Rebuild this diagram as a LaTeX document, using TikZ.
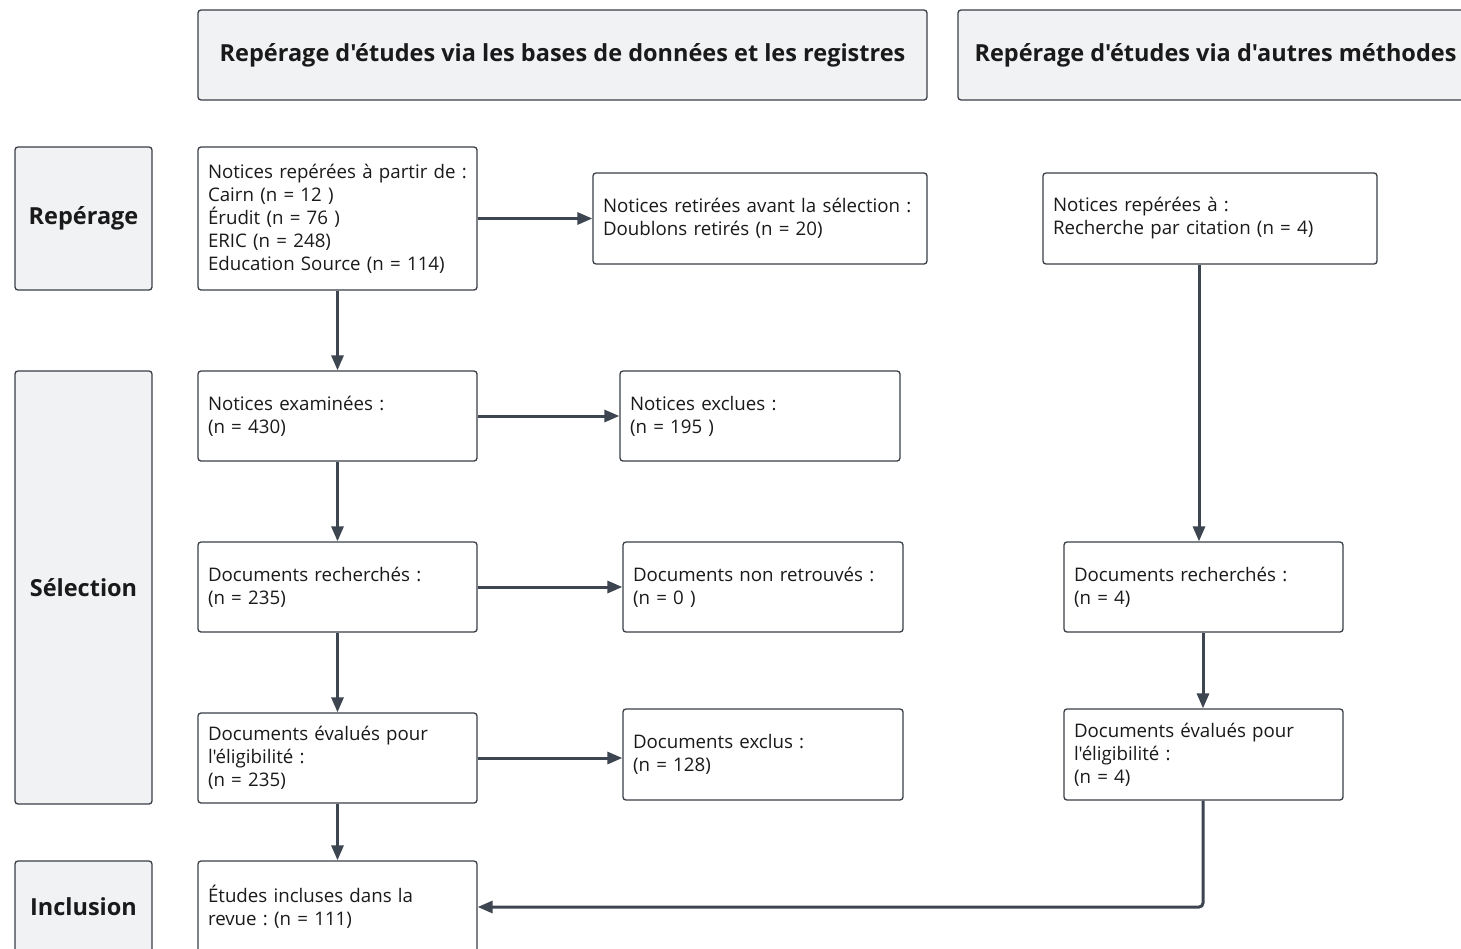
\documentclass[tikz,border=0pt]{standalone}
\usepackage{fontspec}
\setmainfont{Open Sans}[Ligatures=TeXOff]
\frenchspacing
\usetikzlibrary{arrows.meta,positioning}
\definecolor{edge}{HTML}{3A3F47}
\definecolor{arrowc}{HTML}{3D4550}
\definecolor{panel}{HTML}{F1F2F4}
\definecolor{ink}{HTML}{1A1A1A}
\tikzset{
  box/.style={draw=edge, line width=1.3pt, rounded corners=3pt, fill=white,
    inner sep=0pt, align=left, text=ink, font=\fontsize{18.7}{23}\selectfont},
  headbox/.style={draw=edge, line width=1.3pt, rounded corners=3pt, fill=panel,
    inner sep=0pt, align=center, text=ink, font=\bfseries\fontsize{23.5}{27}\selectfont},
  phasebox/.style={headbox},
  flow/.style={draw=arrowc, line width=3pt, -{Triangle[length=15pt,width=12pt]}, rounded corners=4pt}
}
\newcommand{\mkbox}[7]{% name, cx, cy, w, h, style, text
  \node[#6, minimum width=#4pt, minimum height=#5pt, text width=#4pt-20pt] (#1) at (#2,#3) {#7};}
\begin{document}
\begin{tikzpicture}[x=1pt,y=-1pt]
\useasboundingbox (0,0) rectangle (1461,948);
\clip (0,0) rectangle (1461,948);
\fill[white] (0,0) rectangle (1461,948);
% headers
\node[headbox, minimum width=729pt, minimum height=90pt] (H1) at (562.5,55) {Repérage d'études via les bases de données et les registres};
\node[headbox, minimum width=515pt, minimum height=90pt] (H2) at (1215.5,55) {Repérage d'études via d'autres méthodes};
% phases
\node[phasebox, minimum width=137pt, minimum height=143pt] (P1) at (83.5,218.5) {Repérage};
\node[phasebox, minimum width=137pt, minimum height=433pt] (P2) at (83.5,587.5) {Sélection};
\node[phasebox, minimum width=137pt, minimum height=92pt] (P3) at (83.5,907) {Inclusion};
% boxes
\mkbox{A}{337.5}{218.5}{279}{143}{box}{Notices repérées à partir de :\\Cairn (n = 12 )\\Érudit (n = 76 )\\ERIC (n = 248)\\Education Source (n = 114)}
\mkbox{B}{760}{218.5}{334}{91}{box}{Notices retirées avant la sélection :\\Doublons retirés (n = 20)}
\mkbox{C}{1210}{218.5}{334}{91}{box}{Notices repérées à :\\Recherche par citation (n = 4)}
\mkbox{D}{337.5}{416}{279}{90}{box}{Notices examinées :\\(n = 430)}
\mkbox{E}{760}{416}{280}{90}{box}{Notices exclues :\\(n = 195 )}
\mkbox{F}{337.5}{587}{279}{90}{box}{Documents recherchés :\\(n = 235)}
\mkbox{G}{763}{587}{280}{90}{box}{Documents non retrouvés :\\(n = 0 )}
\mkbox{Hr}{1203.5}{587}{279}{90}{box}{Documents recherchés :\\(n = 4)}
\mkbox{I}{337.5}{758}{279}{90}{box}{Documents évalués pour\\l'éligibilité :\\(n = 235)}
\mkbox{J}{763}{754.5}{280}{91}{box}{Documents exclus :\\(n = 128)}
\mkbox{K}{1203.5}{754.5}{279}{91}{box}{Documents évalués pour\\l'éligibilité :\\(n = 4)}
\mkbox{L}{337.5}{907}{279}{92}{box}{Études incluses dans la\\revue : (n = 111)}
% connectors
\coordinate (cx) at (1199,0);
\coordinate (kx) at (1203,0);
\draw[flow] (A.east) -- (A.east -| B.west);
\draw[flow] (A.south) -- (D.north);
\draw[flow] (D.east) -- (D.east -| E.west);
\draw[flow] (D.south) -- (F.north);
\draw[flow] (F.east) -- (F.east -| G.west);
\draw[flow] (F.south) -- (I.north);
\draw[flow] (I.east) -- (I.east -| J.west);
\draw[flow] (I.south) -- (L.north);
\draw[flow] (C.south -| cx) -- (Hr.north -| cx);
\draw[flow] (Hr.south -| kx) -- (K.north -| kx);
\draw[flow] (K.south -| kx) |- (L.east);
\end{tikzpicture}
\end{document}
